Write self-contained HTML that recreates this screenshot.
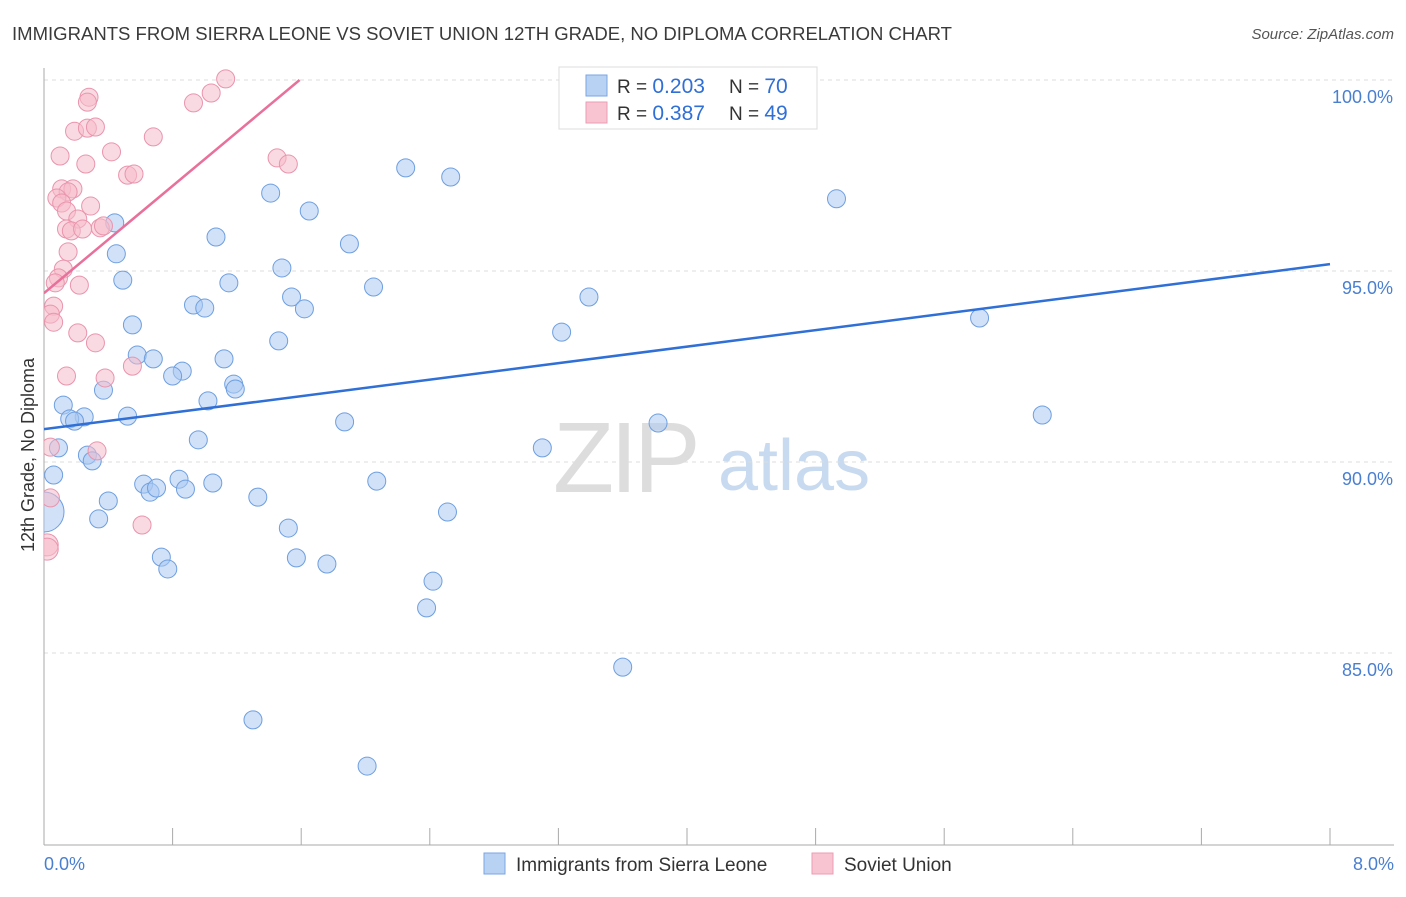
<!DOCTYPE html>
<html><head><meta charset="utf-8"><style>
body{margin:0;background:#fff;font-family:"Liberation Sans",sans-serif}
svg text{font-family:"Liberation Sans",sans-serif}
</style></head><body>
<svg id="chart" width="1406" height="892">
<defs><clipPath id="plotclip"><rect x="44" y="60" width="1360" height="785"/></clipPath></defs>
<text x="12" y="40" font-size="18" fill="#3a3a3a" textLength="940" lengthAdjust="spacingAndGlyphs">IMMIGRANTS FROM SIERRA LEONE VS SOVIET UNION 12TH GRADE, NO DIPLOMA CORRELATION CHART</text>
<text x="1394" y="39" font-size="15" fill="#555" font-style="italic" text-anchor="end">Source: ZipAtlas.com</text>
<g>
<text x="553" y="492" font-size="100" fill="#ddd" font-family="Liberation Serif" letter-spacing="-4">ZIP</text>
<text x="718" y="490" font-size="72" fill="#c8daf0">atlas</text>
</g>
<g id="grid"></g>
<g id="axes"></g>
<g id="marks" clip-path="url(#plotclip)"></g>
<text transform="translate(34,455) rotate(-90)" font-size="18" fill="#333" text-anchor="middle">12th Grade, No Diploma</text>
<text x="44" y="870" font-size="18" fill="#4a7fd0">0.0%</text>
<text x="1394" y="870" font-size="18" fill="#4a7fd0" text-anchor="end">8.0%</text>
<g>
<rect x="559" y="67" width="258" height="62" fill="#fff" stroke="#ddd"/>
<rect x="586" y="75" width="21" height="21" fill="#b8d2f4" stroke="#7aa6e0"/>
<rect x="586" y="102" width="21" height="21" fill="#f8c4d2" stroke="#eb9cb4"/>
<text x="617" y="93" font-size="19" fill="#333">R = <tspan fill="#2f6fd6" font-size="21">0.203</tspan></text>
<text x="729" y="93" font-size="19" fill="#333">N = <tspan fill="#2f6fd6" font-size="21">70</tspan></text>
<text x="617" y="120" font-size="19" fill="#333">R = <tspan fill="#2f6fd6" font-size="21">0.387</tspan></text>
<text x="729" y="120" font-size="19" fill="#333">N = <tspan fill="#2f6fd6" font-size="21">49</tspan></text>
</g>
<g>
<rect x="484" y="853" width="21" height="21" fill="#b8d2f4" stroke="#7aa6e0"/>
<text x="516" y="871" font-size="19" fill="#333">Immigrants from Sierra Leone</text>
<rect x="812" y="853" width="21" height="21" fill="#f8c4d2" stroke="#eb9cb4"/>
<text x="844" y="871" font-size="19" fill="#333">Soviet Union</text>
</g>
</svg>
<script>
const blueX=[3.37,4.32,2.25,2.53,4.93,1.41,1.65,0.44,1.07,1.90,0.45,1.48,0.49,1.15,2.05,1.54,3.39,0.93,1.00,1.62,5.82,0.55,3.22,1.46,0.58,0.68,1.12,0.86,0.80,1.18,1.19,0.37,1.02,0.12,0.52,0.25,0.16,0.19,1.87,6.21,3.82,0.96,3.10,0.09,0.27,0.30,0.06,0.84,2.07,1.05,0.62,0.88,0.66,0.70,1.33,0.40,2.51,0.0,0.34,1.52,0.73,1.57,1.76,0.77,2.42,2.38,3.60,1.30,2.01];
const blueY=[100,100,97.70,97.46,96.89,97.04,96.57,96.26,95.89,95.71,95.45,95.08,94.76,94.69,94.58,94.32,94.32,94.11,94.03,94.01,93.77,93.59,93.40,93.17,92.80,92.70,92.70,92.38,92.25,92.04,91.91,91.88,91.60,91.49,91.20,91.18,91.13,91.07,91.05,91.23,91.02,90.58,90.37,90.37,90.18,90.03,89.66,89.55,89.50,89.45,89.42,89.29,89.21,89.32,89.08,88.98,88.69,88.69,88.51,88.27,87.51,87.49,87.33,87.20,86.88,86.18,84.63,83.25,82.04];
const blueBig=[57];
const pinkX=[1.13,0.28,0.27,0.93,1.04,0.19,0.27,0.32,0.68,0.42,0.10,1.45,1.52,0.26,0.52,0.56,0.11,0.18,0.15,0.08,0.11,0.29,0.14,0.21,0.14,0.17,0.35,0.37,0.24,0.15,0.12,0.09,0.07,0.22,0.06,0.04,0.06,0.21,0.32,0.14,0.38,0.55,0.33,0.04,0.04,0.61,0.02,0.02];
const pinkY=[100.03,99.55,99.42,99.40,99.66,98.66,98.74,98.77,98.51,98.12,98.01,97.96,97.80,97.80,97.51,97.54,97.15,97.15,97.07,96.91,96.78,96.70,96.57,96.36,96.10,96.05,96.13,96.18,96.10,95.50,95.05,94.82,94.69,94.63,94.08,93.87,93.66,93.38,93.12,92.25,92.20,92.51,90.29,90.39,89.06,88.35,87.83,87.72];
const blueTrend=[[0,90.86],[8,95.18]];
const pinkTrend=[[0,94.42],[1.59,100]];
const yTicks=[100,95,90,85];
const yTickLabels=["100.0%","95.0%","90.0%","85.0%"];
const xTicks=[0,0.8,1.6,2.4,3.2,4.0,4.8,5.6,6.4,7.2,8.0];

const NS="http://www.w3.org/2000/svg";
const sx=v=>44+v*160.75;
const sy=v=>80+(100-v)*38.2;
function mk(tag,attrs,parent){const e=document.createElementNS(NS,tag);for(const k in attrs)e.setAttribute(k,attrs[k]);parent.appendChild(e);return e;}
const grid=document.getElementById('grid'),axes=document.getElementById('axes'),marks=document.getElementById('marks');
yTicks.forEach((t,i)=>{
 const l=mk('line',{x1:44,x2:1394,y1:sy(t),y2:sy(t),stroke:'#ddd','stroke-dasharray':'4,4'},grid);
 
 
 const tx=mk('text',{x:1393,y:sy(t)+23,'font-size':18,fill:'#4a7fd0','text-anchor':'end'},axes);
 tx.textContent=yTickLabels[i];
 
 
});
const ya=mk('line',{x1:44,x2:44,y1:68,y2:845,stroke:'#aaa'},axes);


const xa=mk('line',{x1:44,x2:1394,y1:845,y2:845,stroke:'#aaa'},axes);


xTicks.forEach(t=>{
 const l=mk('line',{x1:sx(t),x2:sx(t),y1:828,y2:845,stroke:'#aaa'},axes);
 
 
});
blueX.forEach((x,i)=>{
 const big=blueBig.includes(i);
 const c=mk('circle',{cx:sx(x),cy:sy(blueY[i]),r:big?20:9,fill:'#a9c9f2','fill-opacity':0.55,stroke:'#6e9fe0','stroke-width':1},marks);
 
 
});
pinkX.forEach((x,i)=>{
 const big=i>=pinkX.length-2;
 const c=mk('circle',{cx:sx(x),cy:sy(pinkY[i]),r:big?11:9,fill:'#f6bccb','fill-opacity':0.55,stroke:'#e994ad','stroke-width':1},marks);
 
 
});
const bl=mk('line',{x1:sx(blueTrend[0][0]),y1:sy(blueTrend[0][1]),x2:sx(blueTrend[1][0]),y2:sy(blueTrend[1][1]),stroke:'#2f6fd6','stroke-width':2.5},marks);


const pl=mk('line',{x1:sx(pinkTrend[0][0]),y1:sy(pinkTrend[0][1]),x2:sx(pinkTrend[1][0]),y2:sy(pinkTrend[1][1]),stroke:'#e8709a','stroke-width':2.5},marks);


</script>
</body></html>
